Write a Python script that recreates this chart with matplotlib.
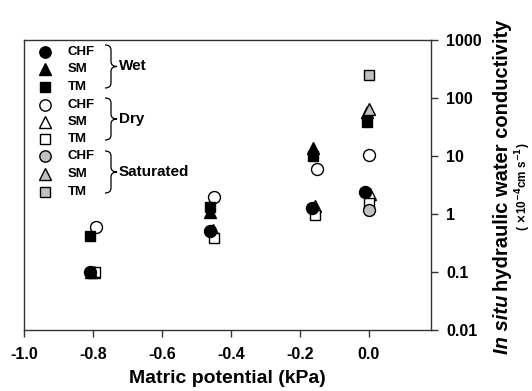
import numpy as np
import matplotlib
matplotlib.use('Agg')
import matplotlib.pyplot as plt
from matplotlib.path import Path
from matplotlib.patches import PathPatch
from matplotlib.transforms import Affine2D

plt.rcParams['font.family'] = ['Liberation Sans', 'DejaVu Sans']
plt.rcParams['font.weight'] = 'bold'

# ---------------------------------------------------------------------------
# data (x = matric potential kPa, y = K in 1e-4 cm/s)
wet_chf_x = [-0.81, -0.46, -0.165, -0.01]
wet_chf_y = [0.1, 0.5, 1.27, 2.35]
wet_sm_x  = [-0.805, -0.46, -0.163, -0.007]
wet_sm_y  = [0.1, 1.08, 14.0, 57.0]
wet_tm_x  = [-0.81, -0.46, -0.163, -0.007]
wet_tm_y  = [0.41, 1.3, 10.0, 39.0]

dry_chf_x = [-0.79, -0.45, -0.15, 0.0]
dry_chf_y = [0.6, 2.0, 6.0, 10.4]
dry_sm_x  = [-0.797, -0.452, -0.155, 0.002]
dry_sm_y  = [0.1, 0.52, 1.37, 2.2]
dry_tm_x  = [-0.795, -0.45, -0.155, 0.0]
dry_tm_y  = [0.1, 0.38, 0.97, 1.55]

sat_chf_x = [0.0]
sat_chf_y = [1.15]
sat_sm_x  = [0.0]
sat_sm_y  = [65.0]
sat_tm_x  = [0.0]
sat_tm_y  = [250.0]

XTICKS = [-1.0, -0.8, -0.6, -0.4, -0.2, 0.0]
YTICKS = [0.01, 0.1, 1, 10, 100, 1000]
YTICKLABELS = ['0.01', '0.1', '1', '10', '100', '1000']
# ---------------------------------------------------------------------------

W, H = 532, 391
GRAY = '#c0c0c0'
MS = {'o': 8.6, '^': 8.6, 's': 7.2}


def main():
    fig = plt.figure(figsize=(W / 100, H / 100), dpi=100)
    ax = fig.add_axes([24 / W, (H - 330) / H, (431 - 24) / W, (330 - 40) / H])

    series = [
        # dry first, wet on top, saturated last
        (dry_chf_x, dry_chf_y, 'o', 'white'),
        (dry_sm_x,  dry_sm_y,  '^', 'white'),
        (dry_tm_x,  dry_tm_y,  's', 'white'),
        (wet_chf_x, wet_chf_y, 'o', 'black'),
        (wet_sm_x,  wet_sm_y,  '^', 'black'),
        (wet_tm_x,  wet_tm_y,  's', 'black'),
        (sat_chf_x, sat_chf_y, 'o', GRAY),
        (sat_sm_x,  sat_sm_y,  '^', GRAY),
        (sat_tm_x,  sat_tm_y,  's', GRAY),
    ]
    for x, y, m, fc in series:
        ax.plot(x, y, ls='none', marker=m, ms=MS[m], mfc=fc, mec='black',
                mew=1.0, zorder=3)

    ax.set_yscale('log')
    ax.set_xlim(-1.0, 0.18)
    ax.set_ylim(0.01, 1000)
    ax.set_xticks(XTICKS)
    ax.set_xticklabels([f'{v:.1f}' for v in XTICKS])
    ax.set_yticks(YTICKS)
    ax.set_yticklabels(YTICKLABELS)
    ax.yaxis.set_minor_locator(matplotlib.ticker.NullLocator())
    ax.yaxis.tick_right()
    ax.tick_params(axis='both', direction='out', length=5, width=1,
                   color='#333333', labelsize=11.5, pad=6)
    ax.tick_params(axis='x', pad=7)
    for sp in ax.spines.values():
        sp.set_color('#333333')
        sp.set_linewidth(1.0)

    ax.set_xlabel('Matric potential (kPa)', fontsize=14, fontweight='bold',
                  labelpad=6)

    # ---- hand-made legend, in image pixel coords (y from top) ----
    px = Affine2D().scale(1 / W, -1 / H).translate(0, 1) + fig.transFigure
    rows = [('o', 'black', 'CHF'), ('^', 'black', 'SM'), ('s', 'black', 'TM'),
            ('o', 'white', 'CHF'), ('^', 'white', 'SM'), ('s', 'white', 'TM'),
            ('o', GRAY, 'CHF'), ('^', GRAY, 'SM'), ('s', GRAY, 'TM')]
    row_y = [52, 69, 87, 105, 122, 139, 156, 174, 192]
    for (m, fc, lab), ry in zip(rows, row_y):
        fig.add_artist(matplotlib.lines.Line2D(
            [45], [ry], transform=px, ls='none', marker=m, ms=MS[m] * 0.95,
            mfc=fc, mec='black', mew=1.0))
        fig.text(68, ry, lab, transform=px, fontsize=9.5, fontweight='bold',
                 va='center', ha='left')

    groups = [('Wet', 45, 88), ('Dry', 98, 140), ('Saturated', 151, 193)]
    for name, y0, y1 in groups:
        ym = (y0 + y1) / 2
        xl, xm, xt, r = 105, 111, 117, 5
        verts = [(xl, y0), (xm, y0), (xm, y0 + r),
                 (xm, ym - r), (xm, ym), (xt, ym),
                 (xm, ym), (xm, ym + r),
                 (xm, y1 - r), (xm, y1), (xl, y1)]
        codes = [Path.MOVETO, Path.CURVE3, Path.CURVE3,
                 Path.LINETO, Path.CURVE3, Path.CURVE3,
                 Path.CURVE3, Path.CURVE3,
                 Path.LINETO, Path.CURVE3, Path.CURVE3]
        fig.add_artist(PathPatch(Path(verts, codes), transform=px,
                                 fc='none', ec='black', lw=0.9))
        fig.text(119, ym, name, transform=px, fontsize=11, fontweight='bold',
                 va='center', ha='left')

    # ---- right-hand y label with italic "In situ" ----
    rend = fig.canvas.get_renderer()
    fs = 14.5
    t1 = fig.text(0, 0, 'In situ', fontsize=fs, fontweight='bold',
                  style='italic', rotation=90, ha='center', va='bottom')
    t2 = fig.text(0, 0, 'hydraulic water conductivity', fontsize=fs,
                  fontweight='bold', rotation=90, ha='center', va='bottom')
    h1 = t1.get_window_extent(rend).height
    h2 = t2.get_window_extent(rend).height
    gap = 4
    yc = H - 187
    y_start = yc - (h1 + gap + h2) / 2
    xlab = 502
    t1.set_position((xlab / W, y_start / H))
    t2.set_position((xlab / W, (y_start + h1 + gap) / H))
    fig.text(523 / W, yc / H, r'( $\times$10$^{-4}$cm s$^{-1}$)', fontsize=8.5,
             fontweight='bold', rotation=90, ha='center', va='center')

    fig.savefig('out.png', dpi=100)
    plt.close(fig)


if __name__ == '__main__':
    main()
